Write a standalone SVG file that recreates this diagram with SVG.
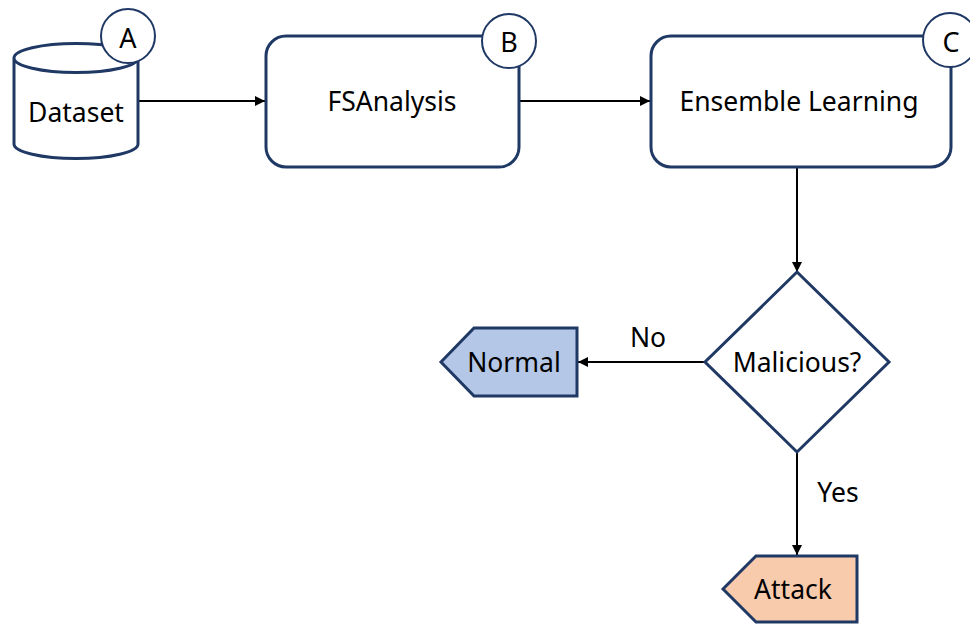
<svg xmlns="http://www.w3.org/2000/svg" width="970" height="624" viewBox="0 0 970 624">
<defs>
<style>
.shape{fill:#ffffff;stroke:#1f3864;stroke-width:3}
.badge{fill:#ffffff;stroke:#1f3864;stroke-width:2}
.conn{stroke:#000000;stroke-width:2;fill:none}
text{font-family:"Noto Sans","Open Sans","DejaVu Sans",sans-serif;font-size:26.5px;fill:#000000;text-anchor:middle;dominant-baseline:central}
.lbl{font-size:27px}
</style>
<marker id="arr" viewBox="0 0 10 10" refX="10" refY="5" markerWidth="10" markerHeight="10" markerUnits="userSpaceOnUse" orient="auto">
<path d="M0,0 L10,5 L0,10 z" fill="#000000"/>
</marker>
</defs>
<rect width="970" height="624" fill="#ffffff"/>
<g id="connectors">
<line class="conn" x1="138" y1="101" x2="265" y2="101" marker-end="url(#arr)"/>
<line class="conn" x1="520" y1="101" x2="650" y2="101" marker-end="url(#arr)"/>
<line class="conn" x1="797" y1="168" x2="797" y2="272" marker-end="url(#arr)"/>
<line class="conn" x1="705" y1="362" x2="578" y2="362" marker-end="url(#arr)"/>
<text x="648" y="337">No</text>
<line class="conn" x1="797" y1="452" x2="797" y2="555" marker-end="url(#arr)"/>
<text x="838" y="492">Yes</text>
</g>
<g id="A">
<path class="shape" d="M14,58 L14,144 A62,14.5 0 0 0 138,144 L138,58 A62,14.5 0 0 0 14,58 A62,14.5 0 0 0 138,58"/>
<text x="76" y="112">Dataset</text>
<circle class="badge" cx="128" cy="36" r="27"/>
<text class="lbl" x="128" y="37">A</text>
</g>
<g id="B">
<rect class="shape" x="266" y="36" width="253" height="131" rx="20"/>
<text x="392" y="101">FSAnalysis</text>
<circle class="badge" cx="509" cy="41" r="27"/>
<text class="lbl" x="509" y="41">B</text>
</g>
<g id="C">
<rect class="shape" x="651" y="36" width="300" height="131" rx="20"/>
<text x="799" y="101">Ensemble Learning</text>
<circle class="badge" cx="950" cy="40" r="27"/>
<text class="lbl" x="951" y="41">C</text>
</g>
<g id="decision">
<path class="shape" d="M797,272 L889,362 L797,452 L705,362 Z"/>
<text x="797" y="362">Malicious?</text>
</g>
<g id="normal">
<path class="shape" style="fill:#b4c7e7" d="M441,362 L474,328 L577,328 L577,396 L474,396 Z"/>
<text x="514" y="362">Normal</text>
</g>
<g id="attack">
<path class="shape" style="fill:#f8cbad" d="M723,589 L756,556 L857,556 L857,622 L756,622 Z"/>
<text x="793" y="589">Attack</text>
</g>
</svg>
